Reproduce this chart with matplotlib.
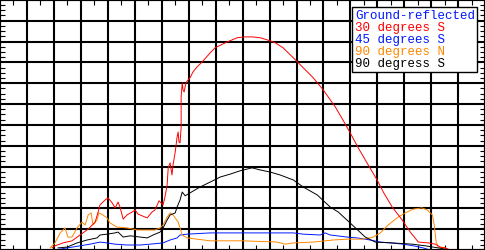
import numpy as np
import matplotlib.pyplot as plt
from matplotlib.ticker import MultipleLocator

# solar irradiance on tilted planes over one day (hour, W/m2)
hours_30s = [5.93, 6.04, 6.34, 6.67, 6.97, 7.27, 7.53, 7.64, 7.71, 7.90, 8.01, 8.16, 8.27, 8.38,
             8.45, 8.57, 8.71, 8.90, 9.01, 9.12, 9.46, 9.64, 9.75, 9.90, 10.05, 10.12, 10.20,
             10.24, 10.31, 10.38, 10.42, 10.50, 10.57, 10.61, 10.64, 10.68, 10.72, 10.72, 10.76,
             10.79, 10.83, 10.90, 10.98, 11.05, 11.16, 11.31, 11.50, 11.80, 11.98, 12.43, 12.80,
             13.09, 13.39, 13.65, 13.91, 14.21, 14.50, 14.88, 15.25, 15.62, 15.99, 16.44, 16.81,
             16.99, 17.29, 17.66, 17.99, 18.22, 18.55, 18.92, 19.22, 19.52, 19.89, 20.15, 20.33,
             20.52, 20.70]
watt_30s = [5, 10, 17, 22, 36, 50, 67, 91, 108, 120, 125, 113, 101, 115,
            103, 74, 84, 91, 96, 86, 77, 91, 96, 118, 108, 127, 156,
            197, 209, 180, 204, 235, 271, 283, 259, 257, 295, 367, 401,
            384, 379, 401, 408, 413, 427, 439, 451, 473, 485, 499, 509,
            511, 511, 509, 504, 497, 485, 461, 437, 413, 384, 343, 302,
            281, 245, 204, 168, 139, 103, 72, 43, 19, 17, 14, 7,
            5, 0]

hours_45s = [6.04, 6.49, 6.97, 7.34, 7.71, 7.97, 8.27, 8.71, 9.20, 9.57, 10.05, 10.31, 10.57,
             10.68, 10.94, 11.80, 14.88, 15.25, 15.88, 16.06, 16.25, 16.88, 17.25, 17.73, 18.11,
             18.48, 18.96, 19.33, 19.70, 19.96]
watt_45s = [0, 5, 10, 14, 19, 17, 14, 12, 12, 14, 17, 24, 29,
            36, 38, 41, 41, 38, 36, 41, 36, 31, 29, 24, 19,
            17, 14, 10, 5, 0]

hours_90n = [5.86, 6.04, 6.23, 6.41, 6.52, 6.67, 6.86, 7.04, 7.16, 7.27, 7.38, 7.45, 7.60, 7.67,
             7.82, 7.97, 8.08, 8.34, 8.71, 9.09, 9.46, 9.75, 9.94, 10.05, 10.20, 10.31, 10.42,
             10.61, 10.76, 10.94, 11.80, 13.02, 14.28, 14.58, 14.88, 15.62, 16.36, 16.88, 17.47,
             17.85, 18.11, 18.40, 18.77, 19.03, 19.33, 19.66, 19.85, 20.04, 20.11, 20.18, 20.26,
             20.52, 20.70]
watt_90n = [5, 17, 41, 53, 31, 31, 53, 67, 60, 84, 89, 60, 72, 89,
            84, 77, 65, 55, 53, 48, 48, 48, 53, 60, 79, 89, 84,
            67, 36, 29, 22, 22, 19, 14, 17, 19, 24, 26, 26,
            31, 41, 60, 79, 89, 98, 101, 96, 84, 60, 19, 7,
            5, 0]

hours_90s = [6.15, 6.49, 6.86, 7.23, 7.60, 7.71, 7.97, 8.27, 8.38, 8.57, 8.83, 9.20, 9.46, 9.68,
             9.94, 10.05, 10.20, 10.31, 10.50, 10.57, 10.68, 10.76, 10.87, 11.05, 11.42, 11.80,
             12.17, 12.54, 12.91, 13.35, 13.65, 14.02, 14.39, 14.88, 15.25, 15.77, 16.25, 16.55,
             17.07, 17.55, 17.92, 18.55, 19.29, 19.78, 20.26, 20.52, 20.70]
watt_90s = [5, 7, 17, 24, 29, 36, 38, 41, 43, 31, 34, 31, 29, 36,
            43, 53, 72, 84, 89, 103, 120, 139, 130, 137, 151, 163,
            175, 182, 190, 197, 192, 187, 180, 168, 151, 132, 103, 91,
            60, 31, 19, 17, 14, 10, 5, 2, 0]

plt.rcParams['font.family'] = ['Liberation Mono', 'DejaVu Sans Mono']

fig = plt.figure(figsize=(4.852, 2.502), dpi=100)
ax = fig.add_axes([0, 0, 1, 1])

lw = 0.7
l45, = ax.plot(hours_45s, watt_45s, color='#0018ff', lw=lw, label='45 degrees S')
l90n, = ax.plot(hours_90n, watt_90n, color='#ff8800', lw=lw, label='90 degrees N')
l90s, = ax.plot(hours_90s, watt_90s, color='black', lw=lw, label='90 degress S')
l30, = ax.plot(hours_30s, watt_30s, color='#ff0000', lw=lw, label='30 degrees S')

ax.set_xlim(4, 22)
ax.set_ylim(0, 600)
ax.xaxis.set_major_locator(MultipleLocator(1))
ax.xaxis.set_minor_locator(MultipleLocator(0.5))
ax.yaxis.set_major_locator(MultipleLocator(50))
ax.yaxis.set_minor_locator(MultipleLocator(12.5))
ax.set_axisbelow(True)
ax.grid(False, which='minor')
ax.xaxis.grid(True, which='major', color='black', lw=1.5)
ax.yaxis.grid(True, which='major', color='black', lw=1.5)
ax.tick_params(which='both', direction='in', top=True, right=True,
               labelbottom=False, labelleft=False)
ax.tick_params(which='major', length=0)
ax.tick_params(which='minor', length=3.5, width=0.8, color='black')
for s in ax.spines.values():
    s.set_linewidth(1.5)

leg = ax.legend(handles=[l30, l45, l90n, l90s], loc='upper right',
                bbox_to_anchor=(0.984, 0.972), borderaxespad=0,
                handlelength=0, handletextpad=0, labelcolor='linecolor',
                title='Ground-reflected', alignment='left', fontsize=9,
                title_fontsize=9, fancybox=False, framealpha=1,
                edgecolor='black', labelspacing=0.0, borderpad=0.2)
leg.get_title().set_color('#0018ff')
leg.get_frame().set_linewidth(1.0)
for h in leg.legend_handles:
    h.set_visible(False)

fig.savefig('out.png', dpi=100)
